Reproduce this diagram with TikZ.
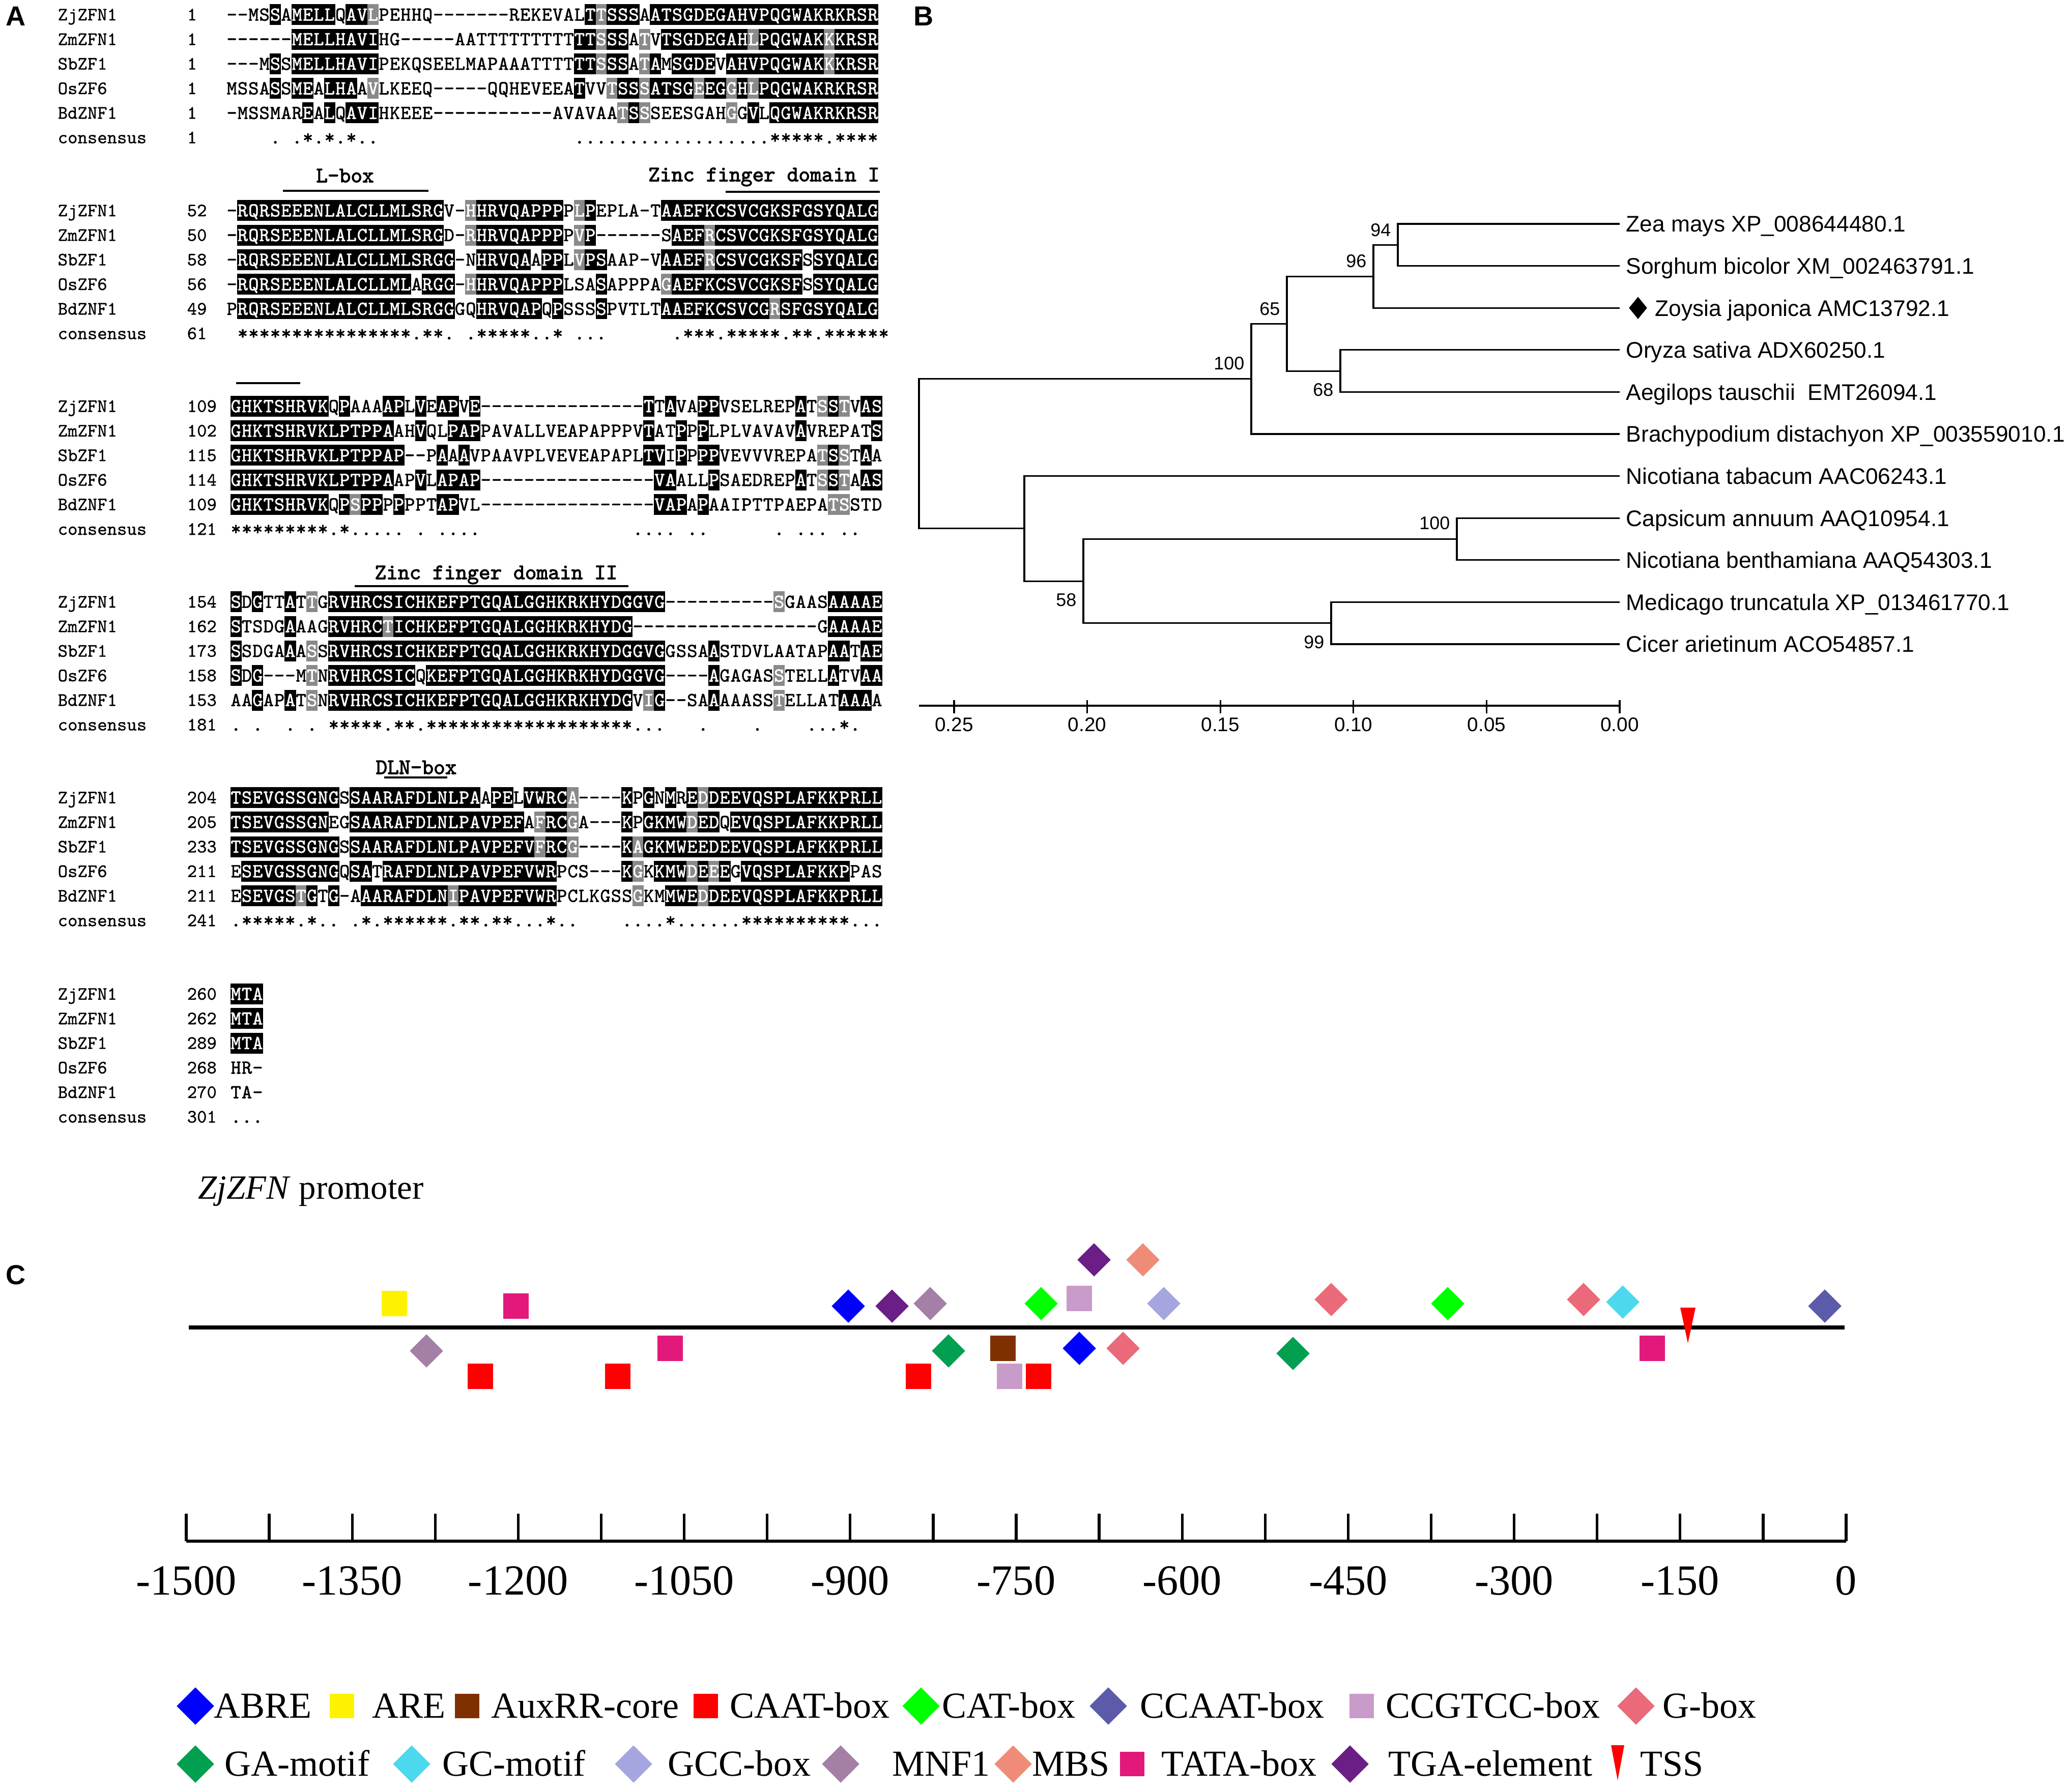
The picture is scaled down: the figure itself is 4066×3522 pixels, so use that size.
\documentclass[tikz,border=0pt]{standalone}
\usepackage{fontspec}
\newfontfamily\arialf{Liberation Sans}
\newfontfamily\timesf{Liberation Serif}
\newfontfamily\seqf[FakeBold=1.5]{lmmono10-regular.otf}
\newfontfamily\namef[FakeBold=0.8]{lmmono10-regular.otf}
\newfontfamily\annf[FakeBold=2.5]{lmmono10-regular.otf}
\usetikzlibrary{shapes.geometric}
\definecolor{shgrey}{HTML}{8A8A8A}
\definecolor{cABRE}{HTML}{0000FF}
\definecolor{cARE}{HTML}{FFF200}
\definecolor{cAux}{HTML}{7F3000}
\definecolor{cCAAT}{HTML}{FF0000}
\definecolor{cCAT}{HTML}{00FF00}
\definecolor{cCCAAT}{HTML}{5B5BA9}
\definecolor{cCCGTCC}{HTML}{C99BCB}
\definecolor{cGbox}{HTML}{EA6A79}
\definecolor{cGA}{HTML}{00A050}
\definecolor{cGC}{HTML}{4CD9EE}
\definecolor{cGCC}{HTML}{A5A5DF}
\definecolor{cMNF}{HTML}{A47FA6}
\definecolor{cMBS}{HTML}{EF8C77}
\definecolor{cTATA}{HTML}{E2197B}
\definecolor{cTGA}{HTML}{6A1E86}
\definecolor{cTSS}{HTML}{FF0000}

\newcount\seqci
\def\seqend{SEQEND}
\gdef\curmode{0}
\def\seqrow#1#2#3#4{\def\seqname{#1}\def\seqX{#2}\pgfmathsetmacro\seqY{#3}\global\seqci=0 \gdef\curmode{0}\seqloop#4\seqend}
\def\seqloop#1{%
  \ifx#1\seqend\let\seqnext\relax
  \else\let\seqnext\seqloop
    \ifx#1[\gdef\curmode{1}%
    \else\ifx#1]\gdef\curmode{0}%
    \else\ifx#1(\gdef\curmode{2}%
    \else\ifx#1)\gdef\curmode{0}%
    \else\seqchar#1%
    \fi\fi\fi\fi
  \fi\seqnext}
\def\seqchar#1{%
  \pgfmathsetmacro\seqcx{\seqX+\the\seqci*21.35}%
  \ifcase\curmode\relax
  \or\fill[black] (\seqcx-0.4,\seqY-20.5) rectangle (\seqcx+21.75,\seqY+20.5);%
  \or\fill[shgrey] (\seqcx-0.4,\seqY-20.5) rectangle (\seqcx+21.75,\seqY+20.5);%
  \fi
  \ifx#1_\else
    \ifnum\curmode=0 \def\seqtc{black}\else\def\seqtc{white}\fi
    \node[seqch,text=\seqtc] (\seqname-\the\seqci) at (\seqcx+10.675,\seqY) {#1};%
  \fi
  \global\advance\seqci by 1\relax}
\newcommand\seqblock[9]{%
  \seqrow{#1a}{#2}{#3}{#4}%
  \seqrow{#1b}{#2}{#3+48.3}{#5}%
  \seqrow{#1c}{#2}{#3+96.6}{#6}%
  \seqrow{#1d}{#2}{#3+144.9}{#7}%
  \seqrow{#1e}{#2}{#3+193.2}{#8}%
  \seqrow{#1f}{#2}{#3+241.5}{#9}}
\newcommand\alnlabels[3]{%
  \foreach \r/\nm in {0/ZjZFN1,1/ZmZFN1,2/SbZF1,3/OsZF6,4/BdZNF1,5/consensus}{%
    \node[lab] (nm#1-\r) at (113,#2+\r*48.3) {\nm};}%
  \foreach \n [count=\r from 0] in {#3}{%
    \node[lab] (no#1-\r) at (367,#2+\r*48.3) {\n};}}

\begin{document}
\begin{tikzpicture}[x=0.01cm,y=-0.01cm,
  seqch/.style={font=\seqf\fontsize{11}{11}\selectfont, inner sep=0pt, text height=0.236cm, text depth=0pt, anchor=center},
  lab/.style={font=\namef\fontsize{10.5}{10.5}\selectfont, inner sep=0pt, text height=0.226cm, text depth=0pt, anchor=west},
  ann/.style={font=\annf\fontsize{12.3}{12.3}\selectfont, inner sep=0pt, text height=0.265cm, text depth=0pt},
  annline/.style={line width=1.2pt},
  panel/.style={font=\arialf\bfseries\fontsize{15.4}{15.4}\selectfont, inner sep=0pt, text height=0.39cm, text depth=0pt},
  tree/.style={line width=0.9pt},
  leaf/.style={font=\arialf\fontsize{12.6}{12.6}\selectfont, inner sep=0pt, text height=0.317cm, text depth=0pt, anchor=west},
  boot/.style={font=\arialf\fontsize{10.2}{10.2}\selectfont, inner sep=0pt, text height=0.257cm, text depth=0pt, anchor=east},
  sclab/.style={font=\arialf\fontsize{11}{11}\selectfont, inner sep=0pt, text height=0.277cm, text depth=0pt},
  axlab/.style={font=\timesf\fontsize{24}{24}\selectfont, inner sep=0pt, text height=0.57cm, text depth=0pt},
  legt/.style={font=\timesf\fontsize{20.5}{20.5}\selectfont, inner sep=0pt, text height=0.477cm, text depth=0pt, anchor=west},
  dia/.style={diamond, fill=#1, inner sep=0pt, minimum width=0.66cm, minimum height=0.66cm},
  sqr/.style={rectangle, fill=#1, inner sep=0pt, minimum size=0.5cm},
  ldia/.style={diamond, fill=#1, inner sep=0pt, minimum width=0.74cm, minimum height=0.74cm},
  lsqr/.style={rectangle, fill=#1, inner sep=0pt, minimum size=0.48cm}]
\useasboundingbox (0,0) rectangle (4066,3522);
\fill[white] (0,0) rectangle (4066,3522);

% panel letters
\node[panel] (pA) at (31,31) {A};
\node[panel] (pB) at (1815,31) {B};
\node[panel] (pC) at (31,2505) {C};

% ===== alignment =====
\alnlabels{1}{28.8}{1,1,1,1,1,1}
\alnlabels{2}{413.8}{52,50,58,56,49,61}
\alnlabels{3}{798.3}{109,102,115,114,109,121}
\alnlabels{4}{1182.8}{154,162,173,158,153,181}
\alnlabels{5}{1567.5}{204,205,233,211,211,241}
\alnlabels{6}{1953.5}{260,262,289,268,270,301}

\seqblock{b1}{445}{28.8}
{--MS[S]A[MELL]Q[AV](L)PEHHQ-------REKEVAL[T](T)[SSS]A[ATSGDEGAHVPQGWAKRKRSR]}
{------[MELLHAVI]HG-----AATTTTTTTTT[TT](S)[SS]A(T)V[TSGDEGAH](L)[PQGWAK](K)[KRSR]}
{---M[S]S[MELLHAVI]PEKQSEELMAPAAATTTT[TT](S)[SS]A(T)[A]M[SGDE]V[AHVPQGWAK](K)[KRSR]}
{MSSA[S]S[ME]A[LHA]A(V)LKEEQ-----QQHEVEEA[T]VV(T)[SS](S)[ATSG](E)[EG](G)[H](L)[PQGWAKRKRSR]}
{-MSSMAR[E]A[L]Q[AVI]HKEEE-----------AVAVAA(T)[S](S)SEESGAH(G)G[V]L[QGWAKRKRSR]}
{____._.*.*.*..__________________..................*****.****}

\seqblock{b2}{445}{413.8}
{-[RQRSEEENLALCLLMLSRG]V-(H)[HRVQAPPP]P(L)[P]EPLA-T[AAEFKCSVCGKSFGSYQALG]}
{-[RQRSEEENLALCLLMLSRG]D-(R)[HRVQAPPP]P(V)[P]------S[AEF](R)[CSVCGKSFGSYQALG]}
{-[RQRSEEENLALCLLMLSRGG]-N[HRVQA]A[PP]L(V)[PS]AAP-V[AAEF](R)[CSVCGKSF]S[SYQALG]}
{-[RQRSEEENLALCLLML]A[RGG]-(H)[HRVQAPPP]LSA[S]APPPA(G)[AEFKCSVCGKSF]S[SYQALG]}
{P[RQRSEEENLALCLLMLSRGG]GQ[HRVQAP]Q[P]SSS[S]PVTLT[AAEFKCSVCG](R)[SFGSYQALG]}
{_****************.**._.*****..*_...______.***.*****.**.******}

\seqblock{b3}{453}{798.3}
{[GHKTSHRVK]Q[P]AAA[AP]L[V]E[AP]V[E]---------------[T]T[A]VA[PP]VSELREP[A]T(S)[S](T)V[AS]}
{[GHKTSHRVKLPTPPA]AH[V]QL[PAP]PAVALLVEAPAPPPV[T]AT[P]P[P]LPLVAVAV[A]VREPAT[S]}
{[GHKTSHRVKLPTPPAP]--P[A]A[A]VPAAVPLVEVEAPAPL[TV]I[P]P[PP]VEVVVREPA(T)[S](S)T[A]A}
{[GHKTSHRVKLPTPPA]AP[V]L[APAP]----------------[VA]ALL[P]SAEDREP[A]T(S)[S](T)A[AS]}
{[GHKTSHRVK]Q[P](S)[PP]P[P]PPT[AP]VL----------------[VAP]A[P]AAIPTTPAEPA(TS)STD}
{*********.*....._._....______________...._..______._..._..___}

\seqblock{b4}{453}{1182.8}
{[S]D[G]TT[A]T(T)G[RVHRCSICHKEFPTGQALGGHKRKHYDGGVG]----------(S)GAAS[AAAAE]}
{[S]TSDG[A]AAG[RVHRC](T)[ICHKEFPTGQALGGHKRKHYDG]-----------------G[AAAAE]}
{[S]SDGA[A]A(S)S[RVHRCSICHKEFPTGQALGGHKRKHYDGGVG]GSSA[A]STDVLAATAP[AA]T[AE]}
{[S]D[G]---M(T)N[RVHRCSIC]Q[KEFPTGQALGGHKRKHYDGGVG]----[A]GAGAS(S)TELL[A]TV[AA]}
{AA[G]AP[A]T(S)N[RVHRCSICHKEFPTGQALGGHKRKHYDG]V(I)[G]--SA[A]AAASS(T)ELLAT[AAA]A}
{._.__._._*****.**.*******************...___.____.____...*.__}

\seqblock{b5}{453}{1567.5}
{[TSEVGSSGNG]S[SAARAFDLNLPA]A[PE]L[VWRC](A)----[K]P[G]N[M]R[E](D)[DEEVQSPLAFKKPRLL]}
{[TSEVGSSGN]EG[SAARAFDLNLPAVPEF]A(F)[RC](G)A---[K]P[GKMW](D)[ED]Q[EVQSPLAFKKPRLL]}
{[TSEVGSSGNG]S[SAARAFDLNLPAVPEFV](F)[RC](G)----[K](A)[GKMWEEDEEVQSPLAFKKPRLL]}
{E[SEVGSSGNG]Q[SA]T[RAFDLNLPAVPEFVWR]PCS---[K](G)K[KMW](D)[E](E)[E]G[VQSPLAFKKP]PAS}
{E[SEVGS](T)[G]T[G]-A[AARAFDLN](I)[PAVPEFVWR]PCLKGSS(G)KM[MWE](D)[DEEVQSPLAFKKPRLL]}
{.*****.*.._.*.******.**.**...*..____....*......**********...}

\seqblock{b6}{453}{1953.5}
{[MTA]}{[MTA]}{[MTA]}{HR-}{TA-}{...}

% domain annotations
\node[ann,anchor=center] (lboxlab) at (678,345) {L-box};
\draw[annline] (556,375) -- (842,375);
\node[ann,anchor=east] (zf1lab) at (1729,343) {Zinc finger domain I};
\draw[annline] (1426,377) -- (1729,377);
\draw[annline] (464,753) -- (590,753);
\node[ann,anchor=center] (zf2lab) at (975,1125) {Zinc finger domain II};
\draw[annline] (697,1152) -- (1235,1152);
\node[ann,anchor=center] (dlnlab) at (818,1508) {DLN-box};
\draw[annline] (755,1528) -- (879,1528);

% ===== tree =====
\coordinate (lf1) at (3183,440);
\coordinate (lf2) at (3183,522.6);
\coordinate (lf3) at (3183,605.2);
\coordinate (lf4) at (3183,687.8);
\coordinate (lf5) at (3183,770.4);
\coordinate (lf6) at (3183,853);
\coordinate (lf7) at (3183,935.6);
\coordinate (lf8) at (3183,1018.2);
\coordinate (lf9) at (3183,1100.8);
\coordinate (lf10) at (3183,1183.4);
\coordinate (lf11) at (3183,1266);
\coordinate (n94) at (2747,481.3);
\coordinate (n96) at (2699,543.25);
\coordinate (n68) at (2634,729.1);
\coordinate (n65) at (2529,636.2);
\coordinate (n100) at (2459,744.6);
\coordinate (n100b) at (2863,1059.5);
\coordinate (n99) at (2616,1224.7);
\coordinate (n58) at (2129,1142.1);
\coordinate (nT) at (2013,1038.85);
\coordinate (root) at (1806,891.7);
\draw[tree] (n94) |- (lf1);
\draw[tree] (n94) |- (lf2);
\draw[tree] (n96) |- (n94);
\draw[tree] (n96) |- (lf3);
\draw[tree] (n68) |- (lf4);
\draw[tree] (n68) |- (lf5);
\draw[tree] (n65) |- (n96);
\draw[tree] (n65) |- (n68);
\draw[tree] (n100) |- (n65);
\draw[tree] (n100) |- (lf6);
\draw[tree] (root) |- (n100);
\draw[tree] (root) |- (nT);
\draw[tree] (nT) |- (lf7);
\draw[tree] (nT) |- (n58);
\draw[tree] (n58) |- (n100b);
\draw[tree] (n58) |- (n99);
\draw[tree] (n100b) |- (lf8);
\draw[tree] (n100b) |- (lf9);
\draw[tree] (n99) |- (lf10);
\draw[tree] (n99) |- (lf11);

\node[leaf] (t1) at (3195,440) {Zea mays XP\_008644480.1};
\node[leaf] (t2) at (3195,522.6) {Sorghum bicolor XM\_002463791.1};
\node[diamond, fill=black, inner sep=0pt, minimum width=0.36cm, minimum height=0.44cm] (zd) at (3219,605.2) {};
\node[leaf] (t3) at (3252,605.2) {Zoysia japonica AMC13792.1};
\node[leaf] (t4) at (3195,687.8) {Oryza sativa ADX60250.1};
\node[leaf] (t5) at (3195,770.4) {Aegilops tauschii\ \ EMT26094.1};
\node[leaf] (t6) at (3195,853) {Brachypodium distachyon XP\_003559010.1};
\node[leaf] (t7) at (3195,935.6) {Nicotiana tabacum AAC06243.1};
\node[leaf] (t8) at (3195,1018.2) {Capsicum annuum AAQ10954.1};
\node[leaf] (t9) at (3195,1100.8) {Nicotiana benthamiana AAQ54303.1};
\node[leaf] (t10) at (3195,1183.4) {Medicago truncatula XP\_013461770.1};
\node[leaf] (t11) at (3195,1266) {Cicer arietinum ACO54857.1};

\node[boot] (b94) at (2734,452) {94};
\node[boot] (b96) at (2686,513) {96};
\node[boot] (b65) at (2516,607) {65};
\node[boot] (b100) at (2446,714) {100};
\node[boot] (b68) at (2621,766) {68};
\node[boot] (b100b) at (2850,1028) {100};
\node[boot] (b58) at (2116,1179) {58};
\node[boot] (b99) at (2603,1262) {99};

% scale
\coordinate (sc0) at (1806,1387);
\coordinate (sc1) at (3183,1387);
\draw[tree] (sc0) -- (sc1);
\foreach \v/\lbl [count=\k] in {0.25/0.25,0.20/0.20,0.15/0.15,0.10/0.10,0.05/0.05,0/0.00}{
  \draw[tree] (3183-\v*5232,1376) -- ++(0,26);
  \node[sclab] (sl\k) at (3183-\v*5232,1424) {\lbl};
}

% ===== panel C =====
\node[font=\timesf\fontsize{19}{19}\selectfont, inner sep=0pt, text height=0.44cm, text depth=0pt, anchor=west] (ptitle) at (389,2334) {\textit{ZjZFN} promoter};

\coordinate (p0) at (371,2609);
\coordinate (p1) at (3625,2609);
\draw[line width=2.3pt] (p0) -- (p1);

% markers above
\node[sqr=cARE] (m1) at (775,2562) {};
\node[sqr=cTATA] (m2) at (1014,2567) {};
\node[dia=cABRE] (m3) at (1667,2567) {};
\node[dia=cTGA] (m4) at (1753,2567) {};
\node[dia=cMNF] (m5) at (1828,2562) {};
\node[dia=cCAT] (m6) at (2046,2562) {};
\node[sqr=cCCGTCC] (m7) at (2121,2552) {};
\node[dia=cTGA] (m8) at (2150,2476) {};
\node[dia=cMBS] (m9) at (2246,2476) {};
\node[dia=cGCC] (m10) at (2287,2562) {};
\node[dia=cGbox] (m11) at (2616,2554) {};
\node[dia=cCAT] (m12) at (2845,2562) {};
\node[dia=cGbox] (m13) at (3112,2554) {};
\node[dia=cGC] (m14) at (3189,2559) {};
\node[dia=cCCAAT] (m15) at (3586,2567) {};
\fill[cTSS] (3302,2570) -- (3332,2570) -- (3317,2640) -- cycle;
% markers below
\node[dia=cMNF] (m16) at (838,2655) {};
\node[sqr=cCAAT] (m17) at (944,2705) {};
\node[sqr=cCAAT] (m18) at (1214,2705) {};
\node[sqr=cTATA] (m19) at (1317,2650) {};
\node[sqr=cCAAT] (m20) at (1805,2705) {};
\node[dia=cGA] (m21) at (1864,2655) {};
\node[sqr=cAux] (m22) at (1971,2650) {};
\node[sqr=cCCGTCC] (m23) at (1984,2705) {};
\node[sqr=cCAAT] (m24) at (2041,2705) {};
\node[dia=cABRE] (m25) at (2121,2650) {};
\node[dia=cGbox] (m26) at (2207,2650) {};
\node[dia=cGA] (m27) at (2541,2660) {};
\node[sqr=cTATA] (m28) at (3247,2650) {};

% axis
\coordinate (a0) at (366,3029);
\coordinate (a1) at (3628,3029);
\draw[line width=1.7pt] (a0) -- (a1);
\foreach \k in {0,...,20}{
  \draw[line width=1.5pt] (366+163.1*\k,3029) -- ++(0,-54);
}
\foreach \lbl [count=\k from 0] in {-1500,-1350,-1200,-1050,-900,-750,-600,-450,-300,-150,0}{
  \node[axlab] (ax\k) at (366+326.2*\k,3106) {\lbl};
}

% legend
\node[ldia=cABRE] (g1) at (384,3353) {};
\node[legt] (gt1) at (420,3353) {ABRE};
\node[lsqr=cARE] (g2) at (672,3353) {};
\node[legt] (gt2) at (731,3353) {ARE};
\node[lsqr=cAux] (g3) at (918,3353) {};
\node[legt] (gt3) at (965,3353) {AuxRR-core};
\node[lsqr=cCAAT] (g4) at (1387,3353) {};
\node[legt] (gt4) at (1434,3353) {CAAT-box};
\node[ldia=cCAT] (g5) at (1810,3353) {};
\node[legt] (gt5) at (1851,3353) {CAT-box};
\node[ldia=cCCAAT] (g6) at (2178,3353) {};
\node[legt] (gt6) at (2240,3353) {CCAAT-box};
\node[lsqr=cCCGTCC] (g7) at (2676,3353) {};
\node[legt] (gt7) at (2723,3353) {CCGTCC-box};
\node[ldia=cGbox] (g8) at (3215,3353) {};
\node[legt] (gt8) at (3267,3353) {G-box};

\node[ldia=cGA] (g9) at (384,3467) {};
\node[legt] (gt9) at (441,3467) {GA-motif};
\node[ldia=cGC] (g10) at (809,3467) {};
\node[legt] (gt10) at (869,3467) {GC-motif};
\node[ldia=cGCC] (g11) at (1245,3467) {};
\node[legt] (gt11) at (1312,3467) {GCC-box};
\node[ldia=cMNF] (g12) at (1652,3467) {};
\node[legt] (gt12) at (1753,3467) {MNF1};
\node[ldia=cMBS] (g13) at (1991,3467) {};
\node[legt] (gt13) at (2028,3467) {MBS};
\node[lsqr=cTATA] (g14) at (2225,3467) {};
\node[legt] (gt14) at (2282,3467) {TATA-box};
\node[ldia=cTGA] (g15) at (2653,3467) {};
\node[legt] (gt15) at (2728,3467) {TGA-element};
\fill[cTSS] (3166,3430) -- (3192,3430) -- (3179,3499) -- cycle;
\node[legt] (gt16) at (3223,3467) {TSS};
\end{tikzpicture}
\end{document}
